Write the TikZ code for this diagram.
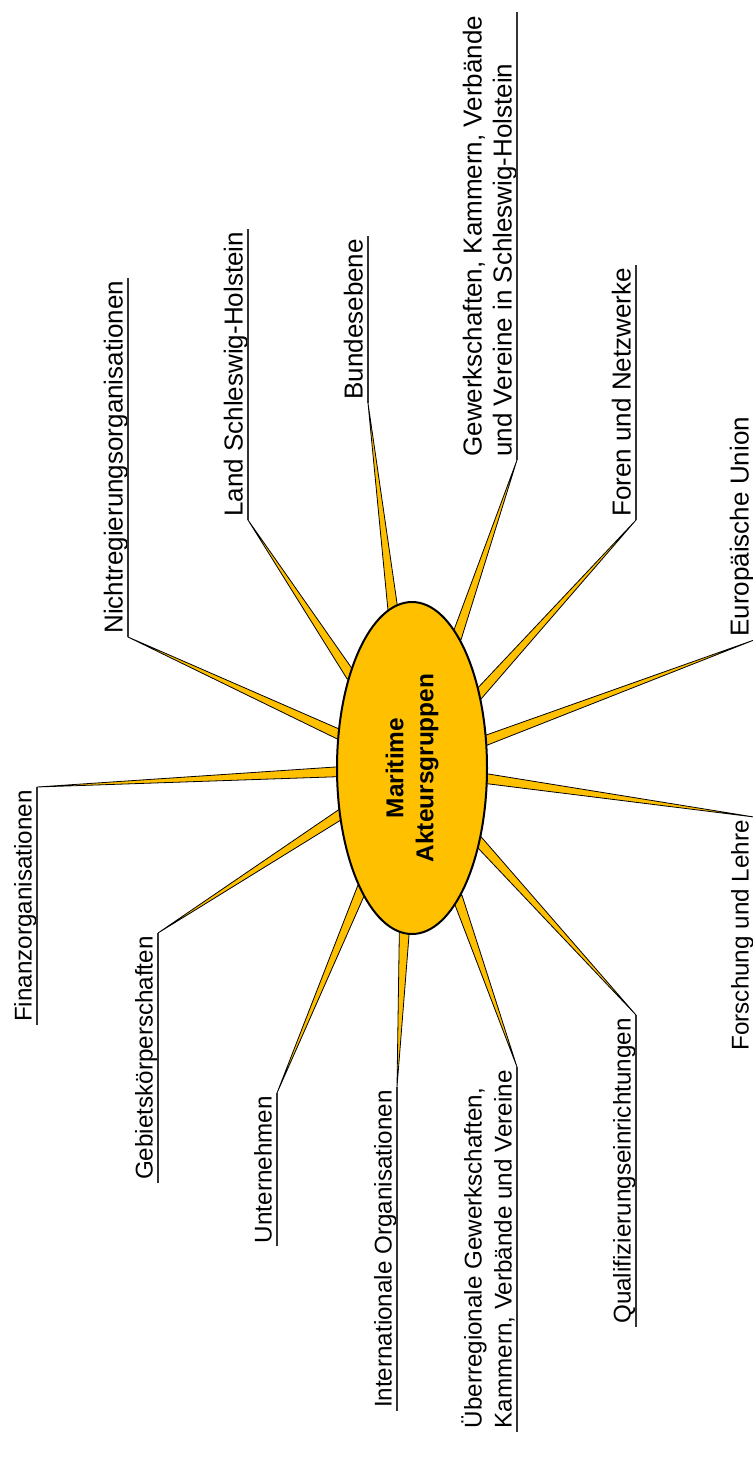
\documentclass[tikz,border=0pt]{standalone}
\usepackage{fontspec}
\setmainfont{Liberation Sans}
\usetikzlibrary{shapes.geometric,calc,backgrounds}
\definecolor{Sonnengelb}{HTML}{FFC000}

\begin{document}
\begin{tikzpicture}[
      x=0.5pt, y=-0.5pt,
      every node/.style={align=left},
      kern/.style={ellipse, draw, line width=1pt, fill=Sonnengelb, rotate=90, minimum width=166pt, minimum height=75pt, inner sep=0pt, align=center, font=\bfseries\fontsize{12.2}{15}\selectfont},
      akteur/.style={rotate=90, inner xsep=1.5pt, inner ysep=0.6pt, text depth=1.9pt},
      oben/.style={akteur, anchor=south west, font=\fontsize{13}{15}\selectfont},
      unten/.style={akteur, anchor=south east, font=\fontsize{12.1}{15}\selectfont},
      strahl/.style={fill=Sonnengelb, draw=black, line width=0.4pt, line join=round},
      strich/.style={draw=black!80, line width=0.7pt}
    ]
  \useasboundingbox (0,0) rectangle (752,1479);
  \node[kern] (kern) at (412,768) {Maritime\\Akteursgruppen};
  % obere Akteure
  \node[oben] (nro)   at (128,637) {Nichtregierungsorganisationen};
  \node[oben] (land)  at (248,520) {Land Schleswig-Holstein};
  \node[oben] (bund)  at (368,403) {Bundesebene};
  \node[oben] (gewsh) at (517,460) {Gewerkschaften, Kammern, Verbände\\und Vereine in Schleswig-Holstein};
  \node[oben] (foren) at (636,520) {Foren und Netzwerke};
  \node[oben] (eu)    at (754,640) {Europäische Union};
  % untere Akteure
  \node[unten] (finanz) at (37,787)   {Finanzorganisationen};
  \node[unten] (gebiet) at (158,933)  {Gebietskörperschaften};
  \node[unten] (untern) at (277,1093) {Unternehmen};
  \node[unten] (intorg) at (397,1087) {Internationale Organisationen};
  \node[unten] (ueber)  at (517,1067) {Überregionale Gewerkschaften,\\Kammern, Verbände und Vereine};
  \node[unten] (quali)  at (636,1015) {Qualifizierungseinrichtungen};
  \node[unten] (forsch) at (754,817)  {Forschung und Lehre};
  % Strahlen
  \begin{scope}[on background layer]
    \foreach \lab/\anc in {nro/south west, land/south west, bund/south west, gewsh/south west, foren/south west, eu/south west,
        finanz/south east, gebiet/south east, untern/south east, intorg/south east, ueber/south east, quali/south east, forsch/south east}{
      \path (kern) -- (\lab.\anc) coordinate[pos=-0.02] (fuss) coordinate[pos=1] (spitze);
      \filldraw[strahl] (spitze) -- ($(fuss)!2.5pt!90:(spitze)$) -- ($(fuss)!2.5pt!-90:(spitze)$) -- cycle;
    }
  \end{scope}
  % Unterstreichungen
  \foreach \lab in {nro, land, bund, gewsh, foren, eu, finanz, gebiet, untern, intorg, ueber, quali, forsch}
    \draw[strich] (\lab.south west) -- (\lab.south east);
\end{tikzpicture}
\end{document}
